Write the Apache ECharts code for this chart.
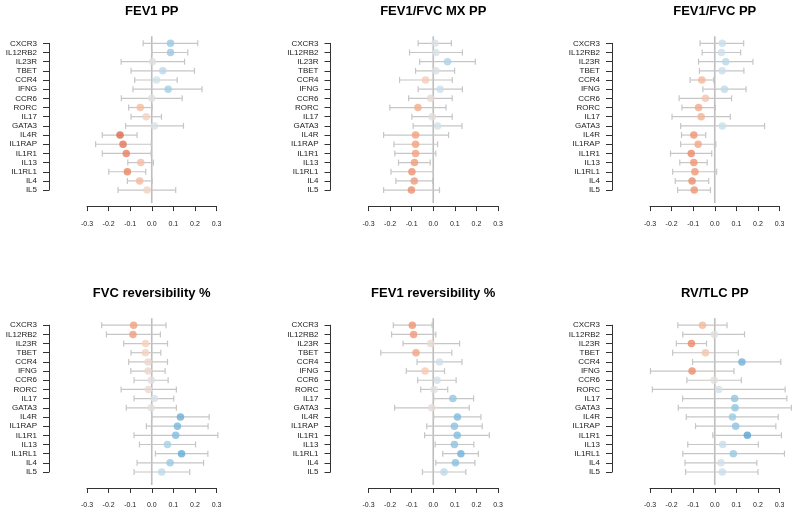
<!DOCTYPE html>
<html>
<head>
<meta charset="utf-8">
<script src="https://cdn.jsdelivr.net/npm/echarts@6/dist/echarts.min.js"></script>
<style>html,body{margin:0;padding:0;background:#fff;}#c{width:800px;height:517px;}</style>
</head>
<body>
<div id="c"></div>
<script>
const genes = ['CXCR3','IL12RB2','IL23R','TBET','CCR4','IFNG','CCR6','RORC','IL17','GATA3','IL4R','IL1RAP','IL1R1','IL13','IL1RL1','IL4','IL5'];
const titles = ['FEV1 PP','FEV1/FVC MX PP','FEV1/FVC PP','FVC reversibility %','FEV1 reversibility %','RV/TLC PP'];
const xTicks = [-0.3,-0.2,-0.1,0.0,0.1,0.2,0.3];

const fev1ppEst = [0.087,0.087,0.003,0.051,0.022,0.076,0.000,-0.053,-0.026,0.012,-0.147,-0.133,-0.118,-0.051,-0.113,-0.056,-0.022];
const fev1ppLo  = [-0.040,0.000,-0.142,-0.096,-0.079,-0.087,-0.141,-0.107,-0.096,-0.121,-0.229,-0.260,-0.229,-0.111,-0.199,-0.113,-0.156];
const fev1ppHi  = [0.213,0.167,0.152,0.198,0.118,0.233,0.141,0.002,0.045,0.147,-0.068,-0.002,-0.003,0.008,-0.028,0.002,0.111];

const mxppEst = [0.008,0.012,0.066,0.012,-0.036,0.032,-0.012,-0.071,-0.005,0.020,-0.082,-0.082,-0.082,-0.087,-0.099,-0.088,-0.101];
const mxppLo  = [-0.070,-0.110,-0.063,-0.082,-0.156,-0.070,-0.114,-0.201,-0.099,-0.093,-0.230,-0.182,-0.178,-0.161,-0.196,-0.173,-0.230];
const mxppHi  = [0.084,0.135,0.195,0.099,0.088,0.135,0.088,0.059,0.088,0.133,0.071,0.020,0.012,-0.014,0.000,-0.003,0.029];

const ratioEst = [0.035,0.031,0.051,0.034,-0.060,0.045,-0.043,-0.075,-0.063,0.035,-0.097,-0.077,-0.109,-0.097,-0.092,-0.105,-0.095];
const ratioLo  = [-0.068,-0.058,-0.075,-0.071,-0.114,-0.055,-0.165,-0.152,-0.198,-0.158,-0.154,-0.158,-0.205,-0.162,-0.195,-0.183,-0.172];
const ratioHi  = [0.134,0.120,0.177,0.135,-0.005,0.145,0.078,0.003,0.072,0.231,-0.042,0.005,-0.014,-0.035,0.009,-0.028,-0.020];

const fvcRevEst = [-0.084,-0.087,-0.029,-0.029,-0.017,-0.017,-0.002,-0.015,0.012,-0.003,0.133,0.119,0.111,0.073,0.138,0.085,0.046];
const fvcRevLo  = [-0.232,-0.210,-0.130,-0.096,-0.107,-0.097,-0.082,-0.142,-0.082,-0.118,0.000,-0.025,-0.082,-0.057,0.017,-0.068,-0.082];
const fvcRevHi  = [0.066,0.040,0.073,0.042,0.073,0.062,0.076,0.114,0.102,0.114,0.266,0.261,0.306,0.203,0.260,0.240,0.176];

const fev1RevEst = [-0.097,-0.091,-0.012,-0.080,0.029,-0.038,0.018,0.004,0.091,-0.007,0.112,0.098,0.111,0.098,0.128,0.103,0.050];
const fev1RevLo  = [-0.185,-0.193,-0.140,-0.243,-0.075,-0.125,-0.072,-0.058,0.002,-0.179,0.002,-0.030,-0.040,0.009,0.044,0.012,-0.050];
const fev1RevHi  = [-0.005,0.012,0.122,0.086,0.133,0.052,0.106,0.067,0.187,0.167,0.221,0.227,0.260,0.188,0.209,0.193,0.151];

const rvtlcEst = [-0.057,-0.002,-0.108,-0.043,0.126,-0.105,-0.003,0.018,0.092,0.094,0.082,0.097,0.151,0.037,0.086,0.029,0.035];
const rvtlcLo  = [-0.171,-0.148,-0.178,-0.195,-0.103,-0.298,-0.129,-0.289,-0.149,-0.169,-0.132,-0.089,-0.009,-0.125,-0.148,-0.138,-0.135];
const rvtlcHi  = [0.057,0.138,-0.038,0.109,0.306,0.089,0.123,0.326,0.334,0.355,0.294,0.283,0.309,0.202,0.323,0.195,0.200];

const panels = [
  [fev1ppEst, fev1ppLo, fev1ppHi],
  [mxppEst, mxppLo, mxppHi],
  [ratioEst, ratioLo, ratioHi],
  [fvcRevEst, fvcRevLo, fvcRevHi],
  [fev1RevEst, fev1RevLo, fev1RevHi],
  [rvtlcEst, rvtlcLo, rvtlcHi]
];

const stops = [
  [-0.16, [214, 94, 70]],
  [-0.11, [236, 135, 100]],
  [-0.07, [244, 172, 140]],
  [-0.03, [246, 208, 188]],
  [0.00, [224, 224, 224]],
  [0.03, [205, 224, 236]],
  [0.07, [168, 208, 230]],
  [0.11, [128, 188, 222]],
  [0.16, [80, 158, 208]]
];
function colorFor(v) {
  if (v <= stops[0][0]) return 'rgb(' + stops[0][1].join(',') + ')';
  for (let i = 1; i < stops.length; i++) {
    if (v <= stops[i][0]) {
      const t = (v - stops[i-1][0]) / (stops[i][0] - stops[i-1][0]);
      const a = stops[i-1][1], b = stops[i][1];
      return 'rgb(' + a.map((c, k) => Math.round(c + (b[k] - c) * t)).join(',') + ')';
    }
  }
  return 'rgb(' + stops[stops.length-1][1].join(',') + ')';
}

const colLeft = [87, 368.5, 650];
const rowTop = [43.3, 325.2];
const gridW = 129.5, gridH = 146.8;
const FONT = 'Liberation Sans, Arial, Helvetica, sans-serif';

const grid = [], xAxis = [], yAxis = [], series = [], title = [];
panels.forEach((p, i) => {
  const col = i % 3, row = Math.floor(i / 3);
  grid.push({ left: colLeft[col], top: rowTop[row], width: gridW, height: gridH, containLabel: false });
  title.push({
    text: titles[i], left: colLeft[col] + gridW / 2, top: row === 0 ? 5 : 287,
    textAlign: 'center', padding: 0,
    textStyle: { fontFamily: FONT, fontSize: 13, fontWeight: 'bold', color: '#000' }
  });
  xAxis.push({
    type: 'value', gridIndex: i, min: xTicks[0], max: xTicks[xTicks.length - 1], interval: 0.1,
    position: 'bottom', offset: 16,
    splitLine: { show: false },
    axisLine: { show: true, onZero: false, lineStyle: { color: '#333', width: 1 } },
    axisTick: { show: true, inside: false, length: 5, lineStyle: { color: '#333' } },
    axisLabel: { fontFamily: FONT, fontSize: 7, color: '#222', margin: 14,
      formatter: v => v.toFixed(1) }
  });
  yAxis.push({
    type: 'category', gridIndex: i, data: genes, inverse: true, boundaryGap: false,
    position: 'left', offset: 38,
    axisLine: { show: true, onZero: false, lineStyle: { color: '#333', width: 1 } },
    axisTick: { show: true, inside: false, length: 6, alignWithLabel: true, lineStyle: { color: '#333' } },
    axisLabel: { fontFamily: FONT, fontSize: 8, color: '#222', margin: 12, interval: 0 },
    splitLine: { show: false }
  });
  // zero reference line
  series.push({
    type: 'custom', xAxisIndex: i, yAxisIndex: i, clip: false, silent: true, z: 1,
    data: [[0, 0]],
    renderItem: (params, api) => {
      const top = api.coord([0, 0]);
      const bot = api.coord([0, genes.length - 1]);
      return { type: 'line', shape: { x1: top[0], y1: top[1] - 7, x2: bot[0], y2: bot[1] + 13 },
        style: { stroke: '#bdbdbd', lineWidth: 1.6 } };
    }
  });
  // error bars
  series.push({
    type: 'custom', xAxisIndex: i, yAxisIndex: i, clip: false, silent: true, z: 2,
    encode: { x: [0, 1], y: 2 },
    data: genes.map((g, k) => [p[1][k], p[2][k], k]),
    renderItem: (params, api) => {
      const a = api.coord([api.value(0), api.value(2)]);
      const b = api.coord([api.value(1), api.value(2)]);
      const h = 3;
      const st = { stroke: '#c6c6c6', lineWidth: 1.2 };
      return { type: 'group', children: [
        { type: 'line', shape: { x1: a[0], y1: a[1], x2: b[0], y2: b[1] }, style: st },
        { type: 'line', shape: { x1: a[0], y1: a[1] - h, x2: a[0], y2: a[1] + h }, style: st },
        { type: 'line', shape: { x1: b[0], y1: b[1] - h, x2: b[0], y2: b[1] + h }, style: st }
      ]};
    }
  });
  // point estimates
  series.push({
    type: 'scatter', xAxisIndex: i, yAxisIndex: i, z: 3, symbol: 'circle', symbolSize: 7.5,
    data: genes.map((g, k) => ({ value: [p[0][k], k], itemStyle: { color: colorFor(p[0][k]) } })),
    silent: true
  });
});

const chart = echarts.init(document.getElementById('c'), null, { renderer: 'canvas' });
chart.setOption({ animation: false, backgroundColor: '#fff', title, grid, xAxis, yAxis, series });
</script>
</body>
</html>
